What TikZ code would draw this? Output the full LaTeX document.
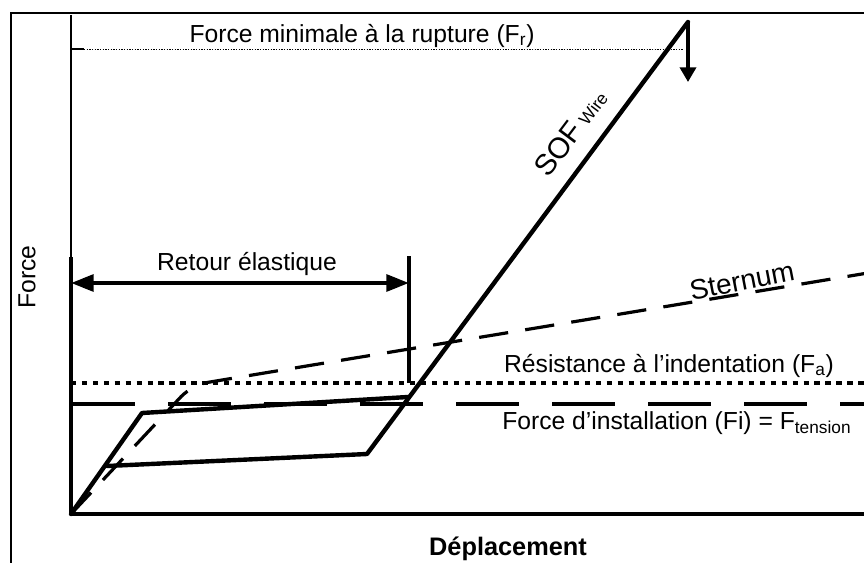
\documentclass[tikz,border=0pt]{standalone}
\usepackage{fontspec}
\setmainfont{Liberation Sans}
\usetikzlibrary{arrows.meta}

\tikzset{
  frameline/.style={line width=1.5pt},
  axisline/.style={line width=3pt},
  curveline/.style={line width=3.3pt, line join=round, line cap=round},
  sternumline/.style={line width=2.4pt, dash pattern=on 22pt off 13pt, rounded corners=12pt},
  installline/.style={line width=2.4pt, dash pattern=on 47pt off 25pt},
  resistline/.style={line width=2.4pt, dash pattern=on 4pt off 4.2pt},
  ruptline/.style={line width=0.5pt, dash pattern=on 1pt off 1pt},
  lbl/.style={inner sep=0pt, font=\fontsize{18.5}{22}\selectfont},
}

\begin{document}
\begin{tikzpicture}[x=0.75pt,y=-0.75pt]
\clip (0,0) rectangle (864,563);
\useasboundingbox (0,0) rectangle (864,563);
% frame
\draw[frameline] (11,600) -- (11,13) -- (900,13);

% key points
\coordinate (O) at (71,514);
\coordinate (ytop) at (71,15);
\coordinate (xend) at (900,514);
\coordinate (load) at (142,413);
\coordinate (hold) at (408,397);
\coordinate (back) at (107,466);
\coordinate (unld) at (367,454);
\coordinate (peak) at (688,22);
\coordinate (drop) at (688,82);
\coordinate (bend) at (192,385);
\coordinate (stend) at (880,271);

% axes
\draw[line width=2pt] (ytop) -- (O);
\draw[axisline] (O) -- (xend);
\draw[line width=2pt] (71,49) -- (84,49);
\draw[ruptline] (84,49) -- (684,49);

% levels
\draw[resistline] (71,383) -- (900,383);
\draw[installline] (72,404) -- (900,404);

% curves
\draw[sternumline] (O) -- (bend) -- (stend);
\draw[curveline] (O) -- (load) -- (hold);
\draw[curveline] (back) -- (unld) -- (peak);
\draw[line width=2.6pt, -{Triangle[length=11pt,width=12pt]}] (peak) -- (drop);

% retour elastique
\coordinate (rl) at (71,283);
\coordinate (rr) at (409,283);
\draw[line width=3.6pt] (71,257) -- (O);
\draw[line width=3.4pt] (409,256) -- (409,383);
\draw[line width=3pt, {Triangle[length=17pt,width=12.5pt]}-{Triangle[length=17pt,width=12.5pt]}] (rl) -- (rr);

% labels
\node[lbl] (rupt) at (362,36) {Force minimale à la rupture (F\textsubscript{r})};
\node[lbl] (retour) at (247,264) {Retour élastique};
\node[lbl, rotate=53, anchor=south, font=\fontsize{22}{24}\selectfont] (sof) at (579,139) {SOF\,{\fontsize{13}{14}\selectfont Wire}};
\node[lbl, rotate=11, font=\fontsize{21}{24}\selectfont] (stern) at (742,281) {Sternum};
\node[lbl] (resist) at (669,366) {Résistance à l'indentation (F\textsubscript{a})};
\node[lbl, anchor=west] (instal) at (502,423) {Force d'installation (Fi) = F\textsubscript{tension}};
\node[lbl, font=\fontsize{19}{22}\selectfont\bfseries] (xlab) at (508,549) {Déplacement};
\node[lbl, rotate=90] (ylab) at (27,277) {Force};
\end{tikzpicture}
\end{document}
